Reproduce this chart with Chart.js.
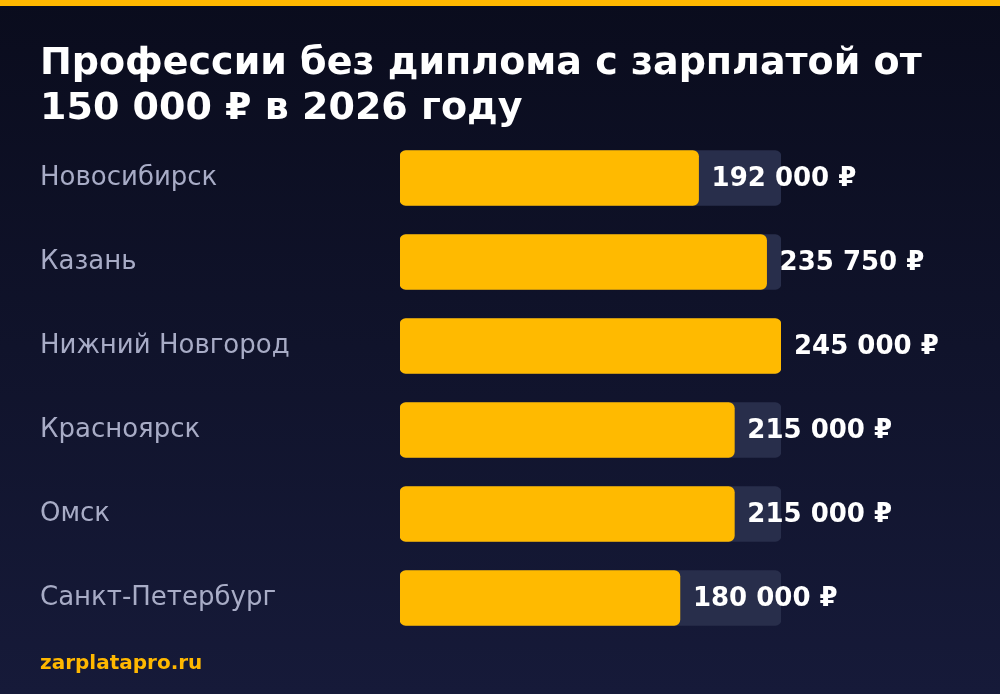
<!DOCTYPE html>
<html lang="ru">
<head>
<meta charset="utf-8">
<title>Профессии без диплома</title>
<script src="https://cdn.jsdelivr.net/npm/chart.js@4/dist/chart.umd.min.js"></script>
<style>
  html, body { margin: 0; padding: 0; background: #101329; }
  #wrap { width: 1000px; height: 694px; position: relative; }
</style>
</head>
<body>
<div id="wrap"><canvas id="myChart"></canvas></div>
<script>
const cities = ["Новосибирск", "Казань", "Нижний Новгород", "Красноярск", "Омск", "Санкт-Петербург"];
const salaries = [192000, 235750, 245000, 215000, 215000, 180000];
const scaleMax = 245000;
const titleLines = ["Профессии без диплома с зарплатой от", "150 000 ₽ в 2026 году"];
const footerText = "zarplatapro.ru";

const yellow = "#FFBA00";
const track = "#282E4B";
const labelGrey = "#A8ACC6";
const white = "#FFFFFF";
const fontFamily = "'DejaVu Sans', sans-serif";

const fmt = v => String(v).replace(/\B(?=(\d{3})+(?!\d))/g, " ") + " ₽";

// dark gradient + top orange stripe
const backdrop = {
  id: "backdrop",
  beforeDraw(chart) {
    const {ctx, width, height} = chart;
    const g = ctx.createLinearGradient(0, 0, 0, height);
    g.addColorStop(0, "#0A0C1D");
    g.addColorStop(1, "#161A39");
    ctx.save();
    ctx.fillStyle = g;
    ctx.fillRect(0, 0, width, height);
    ctx.fillStyle = "#FFB800";
    ctx.fillRect(0, 0, width, 6);
    ctx.restore();
  }
};

const valueLabels = {
  id: "valueLabels",
  afterDatasetsDraw(chart) {
    const {ctx} = chart;
    const meta = chart.getDatasetMeta(0);
    ctx.save();
    ctx.font = "bold 26px " + fontFamily;
    ctx.fillStyle = white;
    ctx.textAlign = "left";
    ctx.textBaseline = "middle";
    meta.data.forEach((bar, i) => {
      ctx.fillText(fmt(salaries[i]), bar.x + 13, bar.y + 1);
    });
    ctx.restore();
  }
};

const ctx = document.getElementById("myChart").getContext("2d");
new Chart(ctx, {
  type: "bar",
  data: {
    labels: cities,
    datasets: [{
      data: salaries,
      backgroundColor: yellow,
      borderRadius: 6,
      borderSkipped: false,
      barThickness: 55,
      grouped: false,
      order: 1
    }, {
      data: cities.map(() => scaleMax),
      backgroundColor: track,
      borderRadius: 6,
      borderSkipped: false,
      barThickness: 55,
      grouped: false,
      order: 2
    }]
  },
  options: {
    indexAxis: "y",
    responsive: true,
    maintainAspectRatio: false,
    animation: false,
    layout: { padding: { left: 40, right: 0, top: 0, bottom: 0 } },
    scales: {
      x: { display: false, min: 0, max: scaleMax },
      y: {
        grid: { display: false },
        border: { display: false },
        ticks: {
          crossAlign: "far",
          color: labelGrey,
          font: { family: fontFamily, size: 26 }
        },
        afterFit: scale => { scale.width = 360; }
      },
      // empty right-hand column that holds the value labels
      yRight: {
        type: "category",
        position: "right",
        display: true,
        grid: { display: false },
        border: { display: false },
        ticks: { display: false },
        afterFit: scale => { scale.width = 219; }
      }
    },
    plugins: {
      legend: { display: false },
      tooltip: { enabled: false },
      title: {
        display: true,
        text: titleLines,
        align: "start",
        color: white,
        font: { family: fontFamily, size: 38, weight: "bold", lineHeight: 45 / 38 },
        padding: { top: 42, bottom: 4 }
      },
      subtitle: {
        display: true,
        position: "bottom",
        text: footerText,
        align: "start",
        color: "#FFB800",
        font: { family: fontFamily, size: 20, weight: "bold", lineHeight: 1.2 },
        padding: { top: 12, bottom: 18 }
      }
    }
  },
  plugins: [backdrop, valueLabels]
});
</script>
</body>
</html>
